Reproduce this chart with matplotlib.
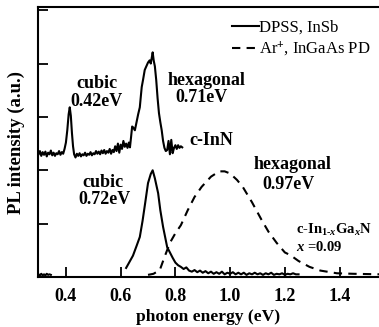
import numpy as np
import matplotlib
matplotlib.use('Agg')
import matplotlib.pyplot as plt

plt.rcParams['font.family'] = ['Liberation Serif', 'DejaVu Serif']
plt.rcParams['font.weight'] = 'bold'
plt.rcParams['mathtext.fontset'] = 'custom'
plt.rcParams['mathtext.rm'] = 'Liberation Serif:bold'
plt.rcParams['mathtext.it'] = 'Liberation Serif:bold:italic'
plt.rcParams['mathtext.bf'] = 'Liberation Serif:bold'

# c-InN, DPSS laser + InSb detector (offset curve)
inn_x = [0.300, 0.305, 0.310, 0.315, 0.320, 0.325, 0.330, 0.335, 0.340, 0.345,
         0.350, 0.355, 0.360, 0.365, 0.370, 0.375, 0.380, 0.385, 0.390, 0.395,
         0.400, 0.405, 0.410, 0.414, 0.418, 0.422, 0.426, 0.430, 0.435, 0.440,
         0.445, 0.450, 0.455, 0.460, 0.465, 0.470, 0.475, 0.480, 0.485, 0.490,
         0.495, 0.500, 0.505, 0.510, 0.515, 0.520, 0.525, 0.530, 0.535, 0.540,
         0.545, 0.550, 0.555, 0.560, 0.565, 0.570, 0.575, 0.580, 0.585, 0.590,
         0.595, 0.600, 0.605, 0.610, 0.615, 0.620, 0.625, 0.630, 0.634, 0.638,
         0.642, 0.646, 0.652, 0.658, 0.664, 0.670, 0.674, 0.677, 0.682, 0.688,
         0.694, 0.700, 0.706, 0.710, 0.714, 0.717, 0.721, 0.725, 0.730, 0.735,
         0.740, 0.745, 0.750, 0.755, 0.760, 0.765, 0.770, 0.775, 0.780, 0.785,
         0.790, 0.795, 0.800, 0.805, 0.810, 0.815, 0.820, 0.825]
inn_y = [2.30, 2.36, 2.27, 2.34, 2.29, 2.35, 2.26, 2.33, 2.30, 2.37,
         2.28, 2.33, 2.27, 2.32, 2.30, 2.36, 2.29, 2.34, 2.31, 2.40,
         2.52, 2.75, 3.05, 3.18, 3.02, 2.70, 2.45, 2.30, 2.24, 2.31,
         2.27, 2.32, 2.26, 2.30, 2.28, 2.33, 2.27, 2.31, 2.29, 2.34,
         2.28, 2.32, 2.30, 2.36, 2.31, 2.35, 2.30, 2.37, 2.32, 2.38,
         2.31, 2.36, 2.33, 2.40, 2.31, 2.38, 2.34, 2.45, 2.36, 2.50,
         2.33, 2.48, 2.40, 2.55, 2.44, 2.50, 2.42, 2.52, 2.43, 2.62,
         2.82, 2.80, 2.75, 2.90, 3.05, 3.18, 3.40, 3.56, 3.70, 3.88,
         3.95, 4.02, 4.06, 4.00, 4.12, 4.21, 4.05, 3.95, 3.69, 3.35,
         3.07, 2.90, 2.75, 2.55, 2.42, 2.36, 2.38, 2.55, 2.30, 2.57,
         2.32, 2.42, 2.47, 2.40, 2.47, 2.42, 2.45, 2.43]

# cubic InGaN, DPSS laser + InSb detector
cub_x = [0.300, 0.305, 0.310, 0.315, 0.320, 0.325, 0.330, 0.335, 0.340, 0.345,
         np.nan,
         0.620, 0.632, 0.645, 0.658, 0.670, 0.680, 0.690, 0.700, 0.710, 0.717,
         0.725, 0.737, 0.745, 0.755, 0.770, 0.790, 0.800, 0.810, 0.820, 0.830,
         0.840, 0.850, 0.860, 0.870, 0.880, 0.890, 0.900, 0.910, 0.920, 0.930,
         0.940, 0.950, 0.960, 0.970, 0.980, 0.990, 1.000, 1.010, 1.020, 1.030,
         1.040, 1.050, 1.060, 1.070, 1.080, 1.090, 1.100, 1.110, 1.120, 1.130,
         1.140, 1.150, 1.160, 1.170, 1.180, 1.190, 1.200, 1.210, 1.220, 1.230,
         1.240, 1.250]
cub_y = [0.05, 0.03, 0.06, 0.03, 0.05, 0.03, 0.06, 0.04, 0.05, 0.04,
         np.nan,
         0.17, 0.28, 0.40, 0.58, 0.75, 1.05, 1.40, 1.76, 1.93, 2.00,
         1.85, 1.57, 1.25, 0.94, 0.56, 0.36, 0.27, 0.22, 0.19, 0.15,
         0.18, 0.12, 0.10, 0.13, 0.09, 0.12, 0.08, 0.11, 0.07, 0.10,
         0.06, 0.09, 0.06, 0.10, 0.05, 0.08, 0.06, 0.09, 0.05, 0.08,
         0.05, 0.08, 0.04, 0.07, 0.05, 0.08, 0.05, 0.07, 0.04, 0.07,
         0.05, 0.08, 0.04, 0.06, 0.05, 0.07, 0.04, 0.06, 0.05, 0.07,
         0.05, 0.05]

# hexagonal InGaN, Ar+ laser + InGaAs PD
hex_x = [0.700, 0.720, 0.743, 0.760, 0.780, 0.800, 0.820, 0.845, 0.870, 0.896,
         0.930, 0.960, 0.980, 1.000, 1.025, 1.046, 1.080, 1.115, 1.140, 1.170,
         1.200, 1.220, 1.250, 1.290, 1.330, 1.390, 1.450, 1.550]
hex_y = [0.04, 0.06, 0.13, 0.37, 0.64, 0.82, 0.97, 1.25, 1.50, 1.69,
         1.88, 1.98, 1.98, 1.94, 1.82, 1.69, 1.40, 1.07, 0.85, 0.64,
         0.46, 0.41, 0.30, 0.19, 0.12, 0.07, 0.06, 0.05]

xticks = [0.4, 0.6, 0.8, 1.0, 1.2, 1.4]
xticklabels = ['0.4', '0.6', '0.8', '1.0', '1.2', '1.4']
yticks = [0, 1, 2, 3, 4, 5]

fig = plt.figure(figsize=(3.79, 3.27), dpi=100)
ax = fig.add_axes([38 / 379, 50 / 327, 1 - 38 / 379, 270 / 327])

ax.plot(inn_x, inn_y, color='black', lw=1.5)
ax.plot(cub_x, cub_y, color='black', lw=1.5, label='DPSS, InSb')
ax.plot(hex_x, hex_y, color='black', lw=1.5, dashes=(4, 3),
        label='Ar$^{+}$, InGaAs PD')

ax.set_xlim(0.298, 1.544)
ax.set_ylim(0, 5.06)
ax.set_xticks(xticks)
ax.set_xticklabels(xticklabels)
ax.set_yticks(yticks)
ax.set_yticklabels([])
ax.tick_params(direction='in', length=7, width=1.3, labelsize=13, pad=8)
for side in ['left', 'bottom', 'top']:
    ax.spines[side].set_linewidth(1.5)
ax.spines['right'].set_visible(False)

ax.set_xlabel('photon energy (eV)', fontsize=12.6, fontweight='bold', labelpad=3)
ax.set_ylabel('PL intensity (a.u.)', fontsize=13.5, fontweight='bold', labelpad=1)

leg = ax.legend(loc='upper left', bbox_to_anchor=(232 / 379, 1 - 20 / 327),
                bbox_transform=fig.transFigure, frameon=False, borderpad=0,
                borderaxespad=0, handlelength=1.6, handletextpad=0.0,
                labelspacing=0.25,
                prop={'family': 'Liberation Serif', 'weight': 'normal', 'size': 12})

def px(x, y):
    return 0.4 + (x - 66) / 274.0, (277 - y) / 53.4

kw = dict(fontsize=13, fontweight='bold', va='center')
ax.text(*px(97, 83), 'cubic', ha='center', **kw)
ax.text(*px(97, 101), '0.42eV', ha='center', **kw)
ax.text(*px(207, 80), 'hexagonal', ha='center', **kw)
ax.text(*px(202, 97), '0.71eV', ha='center', **kw)
ax.text(*px(190, 140), 'c-InN', ha='left', **kw)
ax.text(*px(103, 182), 'cubic', ha='center', **kw)
ax.text(*px(105, 199), '0.72eV', ha='center', **kw)
ax.text(*px(293, 164), 'hexagonal', ha='center', **kw)
ax.text(*px(289, 184), '0.97eV', ha='center', **kw)
ax.text(*px(296, 230), r'c-In$_{\mathrm{1\text{-}}x}$Ga$_{x}$N', ha='left', fontsize=10.5,
        fontweight='bold', va='center')
ax.text(*px(296, 247), r'$x$ =0.09', ha='left', fontsize=10.5,
        fontweight='bold', va='center')

fig.savefig('out.png', dpi=100)
